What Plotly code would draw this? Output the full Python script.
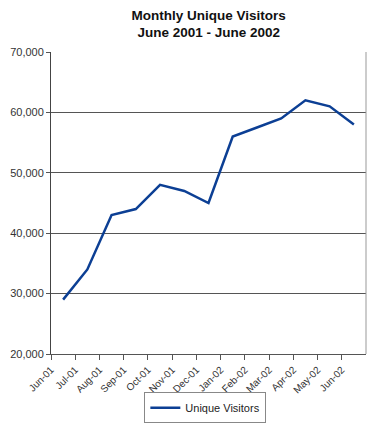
import plotly.graph_objects as go

months = ["Jun-01", "Jul-01", "Aug-01", "Sep-01", "Oct-01", "Nov-01", "Dec-01",
          "Jan-02", "Feb-02", "Mar-02", "Apr-02", "May-02", "Jun-02"]
visitors = [29000, 34000, 43000, 44000, 48000, 47000, 45000,
            56000, 57500, 59000, 62000, 61000, 58000]
y_ticks = [20000, 30000, 40000, 50000, 60000, 70000]

x_idx = list(range(len(months)))

fig = go.Figure()
fig.add_trace(go.Scatter(
    x=x_idx, y=visitors, mode="lines", name="Unique Visitors",
    line=dict(color="#0c3f94", width=2.5),
))

fig.update_layout(
    width=376, height=423,
    margin=dict(l=51, r=10, t=52, b=69, autoexpand=False),
    paper_bgcolor="white", plot_bgcolor="white",
    font=dict(family="Liberation Sans, Arial, sans-serif", size=11, color="#333"),
    title=dict(text="<b>Monthly Unique Visitors<br>June 2001 - June 2002</b>",
               x=0.555, xanchor="center", y=0.953, yanchor="top",
               font=dict(size=13.5, color="#111")),
    showlegend=True,
    legend=dict(orientation="h", x=0.49, xanchor="center",
                yref="container", y=0.036, yanchor="middle",
                bordercolor="#888", borderwidth=1, font=dict(size=11, color="#222")),
)
fig.update_xaxes(
    range=[-0.5, len(months) - 0.5],
    tickvals=[i - 0.5 for i in x_idx], ticktext=months, tickangle=-45,
    ticks="outside", ticklen=5, tickcolor="#555",
    showline=True, linecolor="#555", mirror=False, automargin=False,
    showgrid=False, zeroline=False, tickfont=dict(size=10, color="#333"),
)
fig.update_yaxes(
    range=[20000, 70000], tickvals=y_ticks, tickformat=",",
    ticks="outside", ticklen=4, tickcolor="#555", automargin=False,
    showline=True, linecolor="#444",
    showgrid=True, gridcolor="#555", gridwidth=1, zeroline=False,
    tickfont=dict(size=11, color="#333"),
)
# right border
fig.add_shape(type="line", xref="paper", yref="paper", x0=1, x1=1, y0=0, y1=1,
              line=dict(color="#999", width=1))

fig.write_html("out.html")
